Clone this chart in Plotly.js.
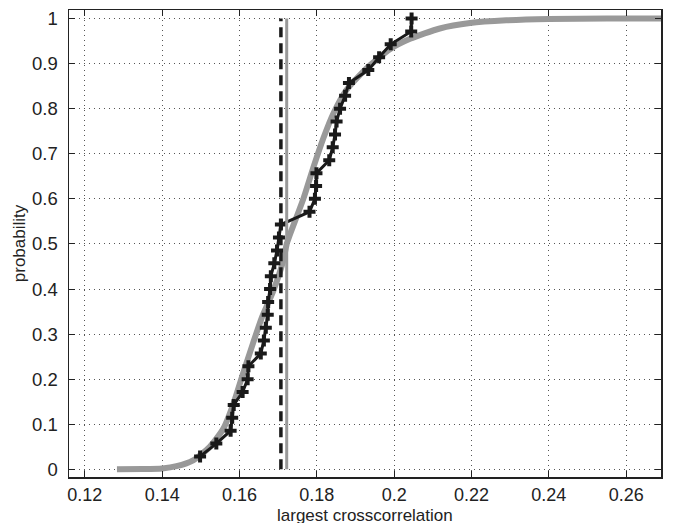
<!DOCTYPE html>
<html>
<head>
<meta charset="utf-8">
<script src="https://cdn.plot.ly/plotly-3.0.1.min.js"></script>
<style>
  html, body { margin: 0; padding: 0; background: #fff; }
  #chart { width: 673px; height: 523px; }
</style>
</head>
<body>
<div id="chart"></div>
<script>
// fitted curve (gray)
var fitX = [0.1283, 0.135, 0.14, 0.1437, 0.148, 0.1523, 0.1558, 0.1584, 0.161, 0.1635,
            0.1657, 0.1687, 0.1713, 0.1722, 0.173, 0.1765, 0.1791, 0.1817, 0.1843, 0.1877,
            0.1929, 0.1989, 0.2041, 0.2118, 0.2196, 0.229, 0.24, 0.255, 0.27];
var fitY = [0, 0.0005, 0.002, 0.007, 0.02, 0.05, 0.09, 0.145, 0.215, 0.28,
            0.335, 0.395, 0.463, 0.5, 0.52, 0.6, 0.67, 0.735, 0.79, 0.842,
            0.89, 0.932, 0.955, 0.978, 0.99, 0.996, 0.999, 1.0, 1.0];

// empirical points (black +)
var empX = [0.1498, 0.1540, 0.1577, 0.1581, 0.1585, 0.1608, 0.1621, 0.1623, 0.1655, 0.1663,
            0.1668, 0.1673, 0.1674, 0.1679, 0.1681, 0.1690, 0.1697, 0.1702, 0.1707, 0.1781,
            0.1795, 0.1798, 0.1799, 0.1832, 0.1841, 0.1847, 0.1851, 0.1860, 0.1873, 0.1883,
            0.1933, 0.1961, 0.1991, 0.2044, 0.2045];
var empY = [0.0286, 0.0571, 0.0857, 0.1143, 0.1429, 0.1714, 0.2, 0.2286, 0.2571, 0.2857,
            0.3143, 0.3429, 0.3714, 0.4, 0.4286, 0.4571, 0.4857, 0.5143, 0.5429, 0.5714,
            0.6, 0.6286, 0.6571, 0.6857, 0.7143, 0.7429, 0.7714, 0.8, 0.8286, 0.8571,
            0.8857, 0.9143, 0.9429, 0.9714, 1.0];

// vertical reference lines
var dashedX = 0.1707;
var solidX = 0.1722;
var vlineY = [0, 1];

var xTitle = 'largest crosscorrelation';
var yTitle = 'probability';

var fnt = 'Liberation Sans, Arial, Helvetica, sans-serif';

var data = [
    {
        x: fitX, y: fitY,
        mode: 'lines', type: 'scatter',
        line: { color: '#999999', width: 6, shape: 'spline', smoothing: 0.6 },
        hoverinfo: 'skip'
    },
    {
        x: empX, y: empY,
        mode: 'lines+markers', type: 'scatter',
        line: { color: '#1a1a1a', width: 3 },
        marker: { symbol: 'cross', size: 10, color: '#1a1a1a', line: { width: 0 } }
    },
    {
        x: [dashedX, dashedX], y: vlineY,
        mode: 'lines', type: 'scatter',
        line: { color: '#1a1a1a', width: 3.5, dash: '10px,6px' }
    },
    {
        x: [solidX, solidX], y: vlineY,
        mode: 'lines', type: 'scatter',
        line: { color: '#999999', width: 3 }
    }
];

var layout = {
    width: 673,
    height: 523,
    showlegend: false,
    paper_bgcolor: '#ffffff',
    plot_bgcolor: '#ffffff',
    font: { family: fnt, size: 18, color: '#222222' },
    margin: { l: 69, r: 12, t: 10, b: 46, pad: 0 },
    xaxis: {
        range: [0.1159, 0.269],
        tickmode: 'linear', tick0: 0.12, dtick: 0.02,
        ticks: 'inside', ticklen: 6, tickcolor: '#222',
        showline: true, linecolor: '#222', linewidth: 1.5, mirror: 'ticks',
        showgrid: true, gridcolor: '#555', gridwidth: 1, griddash: '1px,4px',
        zeroline: false,
        tickfont: { size: 18 },
        ticklabelstandoff: 1
    },
    yaxis: {
        range: [-0.017, 1.019],
        tickmode: 'linear', tick0: 0, dtick: 0.1,
        ticks: 'inside', ticklen: 6, tickcolor: '#222',
        showline: true, linecolor: '#222', linewidth: 1.5, mirror: 'ticks',
        showgrid: true, gridcolor: '#555', gridwidth: 1, griddash: '1px,4px',
        zeroline: false,
        tickfont: { size: 18.5 },
        ticklabelstandoff: 6,
        title: { text: yTitle, font: { size: 17 }, standoff: 2 }
    },
    // x title placed by hand so it sits low like the original
    annotations: [{
        text: xTitle,
        xref: 'paper', yref: 'paper',
        x: 0.5, y: -0.083,
        xanchor: 'center', yanchor: 'middle',
        showarrow: false,
        font: { size: 17 }
    }]
};

Plotly.newPlot('chart', data, layout, { displayModeBar: false, staticPlot: true });
</script>
</body>
</html>
